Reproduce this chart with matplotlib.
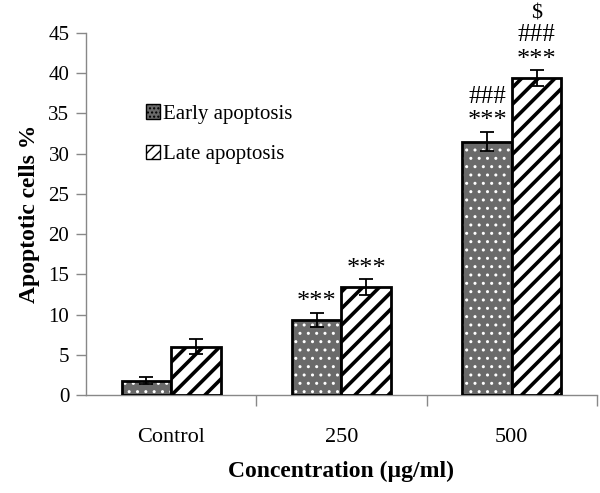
import matplotlib
matplotlib.use("Agg")
import matplotlib.pyplot as plt
import numpy as np
from matplotlib.patches import Patch

categories = ["Control", "250", "500"]
early = [1.8, 9.3, 31.5]
early_err = [0.4, 0.9, 1.2]
late = [6.0, 13.4, 39.4]
late_err = [0.9, 1.0, 1.0]
early_marks = [[], ["***"], ["***", "###"]]
late_marks = [[], ["***"], ["***", "###", r"\$"]]

serif = ["Liberation Serif", "DejaVu Serif"]
plt.rcParams['font.family'] = serif

fig = plt.figure(figsize=(6.0, 4.93), dpi=100)
ax = fig.add_axes([0.1433, 0.1988, 0.8517, 0.7343])

x = np.arange(len(categories))
w = 0.29
gray = "#6a6a6a"

with plt.rc_context({'hatch.linewidth': 1.0}):
    ax.bar(x - w/2, early, w, facecolor=gray, edgecolor="white", hatch="..", linewidth=0, zorder=2)
ax.bar(x - w/2, early, w, fill=False, edgecolor="black", linewidth=2, zorder=3)
with plt.rc_context({'hatch.linewidth': 2.6}):
    ax.bar(x + w/2, late, w, facecolor="white", edgecolor="black", hatch="//", linewidth=2, zorder=3)

ax.errorbar(x - w/2, early, yerr=early_err, fmt="none", ecolor="black", capsize=5, elinewidth=1.3, capthick=1.3, zorder=4)
ax.errorbar(x + w/2, late, yerr=late_err, fmt="none", ecolor="black", capsize=5, elinewidth=1.3, capthick=1.3, zorder=4)

sizes = {"***": 19, "###": 18, r"\$": 16}
offsets = [1.3, 4.4, 7.0]
for i in range(len(categories)):
    for k, m in enumerate(early_marks[i]):
        ax.text(x[i] - w/2, early[i] + early_err[i] + offsets[k], m, ha="center", va="center",
                fontsize=sizes[m], clip_on=False)
    for k, m in enumerate(late_marks[i]):
        ax.text(x[i] + w/2, late[i] + late_err[i] + offsets[k], m, ha="center", va="center",
                fontsize=sizes[m], clip_on=False)

ax.set_xlim(-0.5, 2.5)
ax.set_ylim(0, 45)
ax.set_yticks(np.arange(0, 46, 5))
ax.set_xticks(x)
ax.set_xticklabels(categories, fontsize=16)
ax.set_xticks([0.5, 1.5, 2.5], minor=True)
ax.tick_params(axis="x", which="major", length=0, pad=24)
ax.tick_params(axis="x", which="minor", length=8, color="#888888", width=1)
ax.tick_params(axis="y", labelsize=15, color="#888888", length=7, width=1, pad=5)
for s in ["top", "right"]:
    ax.spines[s].set_visible(False)
for s in ["left", "bottom"]:
    ax.spines[s].set_color("#888888")
    ax.spines[s].set_linewidth(1.0)

ax.set_xlabel("Concentration (µg/ml)", fontsize=17, fontweight="bold", labelpad=10)
ax.set_ylabel("Apoptotic cells %", fontsize=17, fontweight="bold", labelpad=6)

handles = [Patch(facecolor=gray, edgecolor="black", hatch="....", linewidth=1),
           Patch(facecolor="white", edgecolor="black", hatch="///", linewidth=1)]
ax.legend(handles, ["Early apoptosis", "Late apoptosis"], loc="upper left",
          bbox_to_anchor=(0.08, 0.855), frameon=False, fontsize=15,
          handlelength=0.7, handleheight=0.7, handletextpad=0.15, labelspacing=1.0)

fig.savefig("out.png", dpi=100)
